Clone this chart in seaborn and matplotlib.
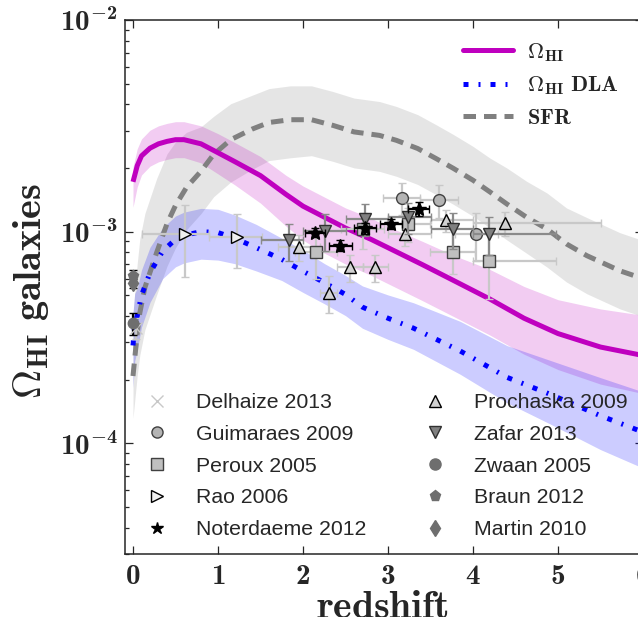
import numpy as np
import pandas as pd
import matplotlib
matplotlib.use("Agg")
import matplotlib.pyplot as plt
from matplotlib.lines import Line2D
from matplotlib.ticker import FixedLocator, LogLocator, NullLocator, FuncFormatter, NullFormatter
import seaborn as sns

# ---------------- model curves (values in units of 1e-3) ----------------
z_gal = [0.0, 0.05, 0.1, 0.2, 0.3, 0.4, 0.5, 0.6, 0.8, 1.0, 1.2, 1.5, 1.8, 2.0,
         2.2, 2.5, 2.8, 3.0, 3.4, 3.8, 4.2, 4.6, 5.0, 5.5, 6.0]
omega_gal = [1.72, 2.05, 2.28, 2.48, 2.60, 2.67, 2.72, 2.72, 2.60, 2.36, 2.14, 1.84,
             1.50, 1.32, 1.20, 1.04, 0.92, 0.84, 0.70, 0.58, 0.48, 0.39, 0.33, 0.285, 0.26]
omega_gal_up = [0.07, 0.08, 0.08, 0.085, 0.085, 0.085, 0.085, 0.085, 0.085, 0.09, 0.09, 0.09,
                0.09, 0.095, 0.095, 0.095, 0.10, 0.10, 0.11, 0.12, 0.14, 0.15, 0.16, 0.18, 0.19]
omega_gal_dn = [0.12, 0.10, 0.09, 0.085, 0.085, 0.085, 0.085, 0.085, 0.09, 0.10, 0.11, 0.13,
                0.15, 0.16, 0.17, 0.17, 0.17, 0.17, 0.17, 0.17, 0.17, 0.17, 0.17, 0.175, 0.18]

z_dla = [0.0, 0.02, 0.05, 0.1, 0.2, 0.35, 0.5, 0.6, 0.8, 1.0, 1.2, 1.45, 1.75, 2.0,
         2.25, 2.5, 2.7, 3.0, 3.3, 3.85, 4.4, 4.9, 5.5, 6.0]
omega_dla = [0.29, 0.37, 0.40, 0.50, 0.64, 0.81, 0.92, 0.96, 1.00, 0.99, 0.93, 0.84, 0.74,
             0.65, 0.575, 0.505, 0.44, 0.39, 0.35, 0.273, 0.205, 0.171, 0.135, 0.113]
omega_dla_up = [0.15, 0.14, 0.13, 0.12, 0.12, 0.11, 0.11, 0.11, 0.11, 0.11, 0.11, 0.11, 0.10,
                0.10, 0.09, 0.09, 0.10, 0.11, 0.12, 0.14, 0.15, 0.16, 0.18, 0.19]
omega_dla_dn = [0.20, 0.18, 0.16, 0.15, 0.14, 0.13, 0.13, 0.13, 0.13, 0.13, 0.12, 0.11, 0.10,
                0.10, 0.10, 0.10, 0.10, 0.10, 0.10, 0.11, 0.12, 0.14, 0.16, 0.17]

z_sfr = [0.0, 0.05, 0.08, 0.14, 0.28, 0.4, 0.5, 0.63, 0.8, 0.95, 1.15, 1.4, 1.6, 1.85,
         2.1, 2.35, 2.6, 2.9, 3.1, 3.35, 3.57, 3.77, 4.0, 4.2, 4.4, 4.63, 4.87, 5.1,
         5.34, 5.73, 6.0]
sfr = [0.208, 0.332, 0.413, 0.545, 0.80, 1.09, 1.33, 1.62, 1.93, 2.32, 2.72, 3.05, 3.28,
       3.38, 3.38, 3.18, 2.96, 2.85, 2.70, 2.47, 2.21, 1.99, 1.75, 1.54, 1.35, 1.17, 1.03,
       0.875, 0.77, 0.653, 0.60]
sfr_up = [0.30, 0.33, 0.35, 0.35, 0.35, 0.33, 0.30, 0.26, 0.21, 0.18, 0.17, 0.16, 0.16, 0.16,
          0.16, 0.16, 0.16, 0.16, 0.16, 0.16, 0.16, 0.16, 0.16, 0.16, 0.17, 0.17, 0.17, 0.17,
          0.18, 0.18, 0.18]
sfr_dn = [0.20, 0.20, 0.20, 0.20, 0.20, 0.20, 0.20, 0.20, 0.20, 0.20, 0.20, 0.19, 0.18, 0.18,
          0.17, 0.17, 0.17, 0.17, 0.17, 0.17, 0.17, 0.17, 0.17, 0.17, 0.17, 0.17, 0.18, 0.18,
          0.18, 0.18, 0.18]

# ---------------- observations (values in units of 1e-3) ----------------
delhaize_z, delhaize_v, delhaize_dv = [0.03], [0.35], [0.04]
zwaan_z, zwaan_v, zwaan_dv = [0.0], [0.37], [0.045]
braun_z, braun_v, braun_dv = [0.0], [0.62], [0.04]
martin_z, martin_v, martin_dv = [0.0], [0.57], [0.03]

rao_z = [0.609, 1.219]
rao_v = [0.97, 0.94]
rao_zlo = [0.50, 0.32]
rao_zhi = [0.29, 0.30]
rao_dv = [0.36, 0.27]

guim_z = [3.16, 3.60, 4.04]
guim_v = [1.445, 1.41, 0.975]
guim_dz = [0.22, 0.22, 0.25]
guim_dv = [0.25, 0.25, 0.25]

peroux_z = [2.15, 2.70, 3.24, 3.76, 4.19]
peroux_v = [0.80, 1.03, 1.09, 0.80, 0.73]
peroux_zlo = [0.25, 0.25, 0.25, 0.27, 0.19]
peroux_zhi = [0.25, 0.25, 0.25, 0.26, 0.79]
peroux_vlo = [0.20, 0.20, 0.20, 0.17, 0.25]
peroux_vhi = [0.20, 0.20, 0.20, 0.30, 0.30]

proch_z = [1.95, 2.30, 2.55, 2.85, 3.20, 3.68, 4.38]
proch_v = [0.843, 0.515, 0.68, 0.68, 0.975, 1.13, 1.094]
proch_zlo = [0.25, 0.10, 0.15, 0.15, 0.20, 0.18, 0.38]
proch_zhi = [0.25, 0.10, 0.15, 0.15, 0.30, 0.32, 1.12]
proch_dv = [0.12, 0.10, 0.10, 0.10, 0.12, 0.13, 0.14]

zafar_z = [1.83, 2.26, 2.73, 3.24, 3.77, 4.19]
zafar_v = [0.91, 1.01, 1.15, 1.17, 1.03, 0.975]
zafar_zlo = [0.33, 0.26, 0.23, 0.24, 0.27, 0.19]
zafar_zhi = [0.17, 0.24, 0.27, 0.26, 0.23, 0.79]
zafar_dv = [0.18, 0.20, 0.20, 0.20, 0.20, 0.20]

noter_z = [2.14, 2.44, 2.73, 3.04, 3.36]
noter_v = [0.99, 0.86, 1.04, 1.09, 1.28]
noter_dz = [0.12, 0.14, 0.13, 0.13, 0.12]
noter_dv = [0.05, 0.05, 0.06, 0.06, 0.10]

x_ticks = [0, 1, 2, 3, 4, 5, 6]
y_ticks = [1e-4, 1e-3, 1e-2]

# ---------------- style ----------------
sns.set_style("ticks")
plt.rcParams.update({
    "mathtext.fontset": "custom",
    "mathtext.rm": "cmb10",
    "mathtext.bf": "cmb10",
    "mathtext.it": "cmb10",
    "mathtext.fallback": "cm",
    "axes.linewidth": 1.1,
    "xtick.direction": "in",
    "ytick.direction": "in",
})
plt.rcParams["font.family"] = ["Liberation Sans", "DejaVu Sans"]

MAGENTA = "#bf00bf"
BLUE = "#0000ff"
GREY = "#808080"
LIGHT = "#c8c8c8"
LW = 3.6
DLA_DASH = (0, (1.0, 2.0, 0.4, 2.0))
SFR_DASH = (0, (2.5, 1.6))

fig = plt.figure(figsize=(6.38, 6.17), dpi=100)
ax = fig.add_axes([124.5 / 638, 1 - 554 / 617, (643 - 124.5) / 638, (554 - 20) / 617])
ax.set_yscale("log")

E = 1e-3


def band(z, v, up, dn, color):
    v = np.asarray(v) * E
    ax.fill_between(z, v / 10 ** np.asarray(dn), v * 10 ** np.asarray(up),
                    color=color, alpha=0.2, lw=0, zorder=1)


band(z_sfr, sfr, sfr_up, sfr_dn, GREY)
band(z_gal, omega_gal, omega_gal_up, omega_gal_dn, MAGENTA)
band(z_dla, omega_dla, omega_dla_up, omega_dla_dn, BLUE)

curves = {
    "gal": pd.DataFrame({"z": z_gal, "v": np.asarray(omega_gal) * E}),
    "dla": pd.DataFrame({"z": z_dla, "v": np.asarray(omega_dla) * E}),
    "sfr": pd.DataFrame({"z": z_sfr, "v": np.asarray(sfr) * E}),
}
sns.lineplot(data=curves["sfr"], x="z", y="v", ax=ax, color=GREY, lw=LW,
             linestyle=SFR_DASH, zorder=3)
sns.lineplot(data=curves["gal"], x="z", y="v", ax=ax, color=MAGENTA, lw=LW,
             zorder=3, solid_capstyle="butt")
sns.lineplot(data=curves["dla"], x="z", y="v", ax=ax, color=BLUE, lw=LW,
             linestyle=DLA_DASH, zorder=3)


def points(z, v, xerr, yerr, marker, ms, fc, ec, ecolor, z_order=5):
    v = np.asarray(v) * E
    if yerr is not None:
        yerr = np.asarray(yerr) * E
    ax.errorbar(z, v, xerr=xerr, yerr=yerr, fmt=marker, ms=ms, mfc=fc, mec=ec,
                mew=1.0, ecolor=ecolor, elinewidth=1.6, capsize=3, capthick=1.6,
                zorder=z_order)


points(delhaize_z, delhaize_v, None, delhaize_dv, "x", 8, LIGHT, LIGHT, LIGHT)
points(zwaan_z, zwaan_v, None, zwaan_dv, "o", 7.5, "#6e6e6e", "#6e6e6e", "black")
points(braun_z, braun_v, None, braun_dv, "p", 8, "#6e6e6e", "#6e6e6e", "black")
points(martin_z, martin_v, None, martin_dv, "d", 8, "#6e6e6e", "#6e6e6e", "black")
points(rao_z, rao_v, [rao_zlo, rao_zhi], rao_dv, ">", 9, "#f0f0f0", "black", LIGHT)
points(guim_z, guim_v, guim_dz, guim_dv, "o", 8.5, "#b4b4b4", "#404040", LIGHT)
points(peroux_z, peroux_v, [peroux_zlo, peroux_zhi], [peroux_vlo, peroux_vhi],
       "s", 8.5, "#c0c0c0", "#404040", LIGHT)
points(proch_z, proch_v, [proch_zlo, proch_zhi], proch_dv, "^", 9, "#d2d2d2", "black", LIGHT)
points(zafar_z, zafar_v, [zafar_zlo, zafar_zhi], zafar_dv, "v", 9, "#808080", "#303030",
       "#8a8a8a", z_order=6)
points(noter_z, noter_v, noter_dz, noter_dv, "*", 10, "black", "black", "black", z_order=7)

# ---------------- axes ----------------
ax.set_xlim(-0.1, 6.0)
ax.set_ylim(3e-5, 1e-2)
ax.xaxis.set_major_locator(FixedLocator(x_ticks))
ax.xaxis.set_minor_locator(NullLocator())
ax.xaxis.set_major_formatter(FuncFormatter(lambda v, p: r"$\mathbf{%d}$" % round(v)))
ax.yaxis.set_major_locator(FixedLocator(y_ticks))
ax.yaxis.set_minor_locator(LogLocator(base=10, subs=np.arange(2, 10)))
ax.yaxis.set_minor_formatter(NullFormatter())
ax.yaxis.set_major_formatter(
    FuncFormatter(lambda v, p: r"$\mathbf{10^{%d}}$" % round(np.log10(v))))
ax.tick_params(which="both", direction="in", top=True, right=True, width=0.9,
               labelsize=21)
ax.tick_params(which="major", length=5.5)
ax.tick_params(which="minor", length=3)
ax.tick_params(axis="x", pad=6)
ax.tick_params(axis="y", pad=5)

ax.set_xlabel(r"$\mathbf{redshift}$", fontsize=28.5)
ax.xaxis.set_label_coords(0.497, -0.064)
ax.set_ylabel(r"$\mathbf{\Omega_{HI}\ galaxies}$", fontsize=29)
ax.yaxis.set_label_coords(-0.142, 0.493)

# ---------------- legends ----------------
line_handles = [
    Line2D([], [], color=MAGENTA, lw=LW),
    Line2D([], [], color=BLUE, lw=LW, linestyle=DLA_DASH),
    Line2D([], [], color=GREY, lw=LW, linestyle=SFR_DASH),
]
line_labels = [r"$\mathbf{\Omega_{HI}}$", r"$\mathbf{\Omega_{HI}\ DLA}$", r"$\mathbf{SFR}$"]
fig.legend(line_handles, line_labels, loc="upper left",
           bbox_to_anchor=(463 / 638, 1 - 41 / 617), bbox_transform=fig.transFigure,
           frameon=False, fontsize=16, handlelength=2.25, handletextpad=0.63,
           labelspacing=0.48, borderpad=0, borderaxespad=0)


def mk(marker, ms, fc, ec):
    return Line2D([], [], ls="none", marker=marker, ms=ms, mfc=fc, mec=ec, mew=1.0)


left_handles = [mk("x", 8, LIGHT, LIGHT), mk("o", 8, "#b4b4b4", "#404040"),
                mk("s", 8, "#c0c0c0", "#404040"), mk(">", 8.5, "#f0f0f0", "black"),
                mk("*", 9, "black", "black")]
left_labels = ["Delhaize 2013", "Guimaraes 2009", "Peroux 2005", "Rao 2006",
               "Noterdaeme 2012"]
right_handles = [mk("^", 8.5, "#d2d2d2", "black"), mk("v", 8.5, "#808080", "#303030"),
                 mk("o", 8, "#6e6e6e", "#6e6e6e"), mk("p", 8, "#6e6e6e", "#6e6e6e"),
                 mk("d", 8, "#6e6e6e", "#6e6e6e")]
right_labels = ["Prochaska 2009", "Zafar 2013", "Zwaan 2005", "Braun 2012", "Martin 2010"]

common = dict(loc="upper left", bbox_transform=fig.transFigure, frameon=False,
              fontsize=15.3, handlelength=2.0, handletextpad=0.85, labelspacing=0.6,
              borderpad=0, borderaxespad=0)
fig.legend(left_handles, left_labels, bbox_to_anchor=(135.7 / 638, 1 - 393 / 617), **common)
fig.legend(right_handles, right_labels, bbox_to_anchor=(413.7 / 638, 1 - 393 / 617),
           **common)

fig.savefig("out.png", dpi=100)
